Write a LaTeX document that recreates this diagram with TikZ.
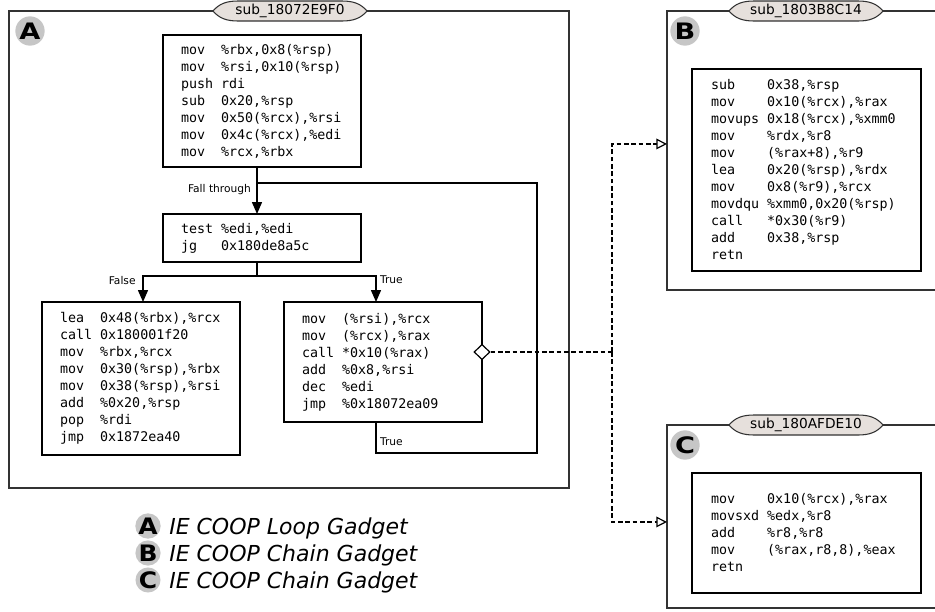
\documentclass[tikz,border=0pt]{standalone}
\usepackage{fontspec}
\usepackage{graphicx}
\setmainfont{DejaVu Sans}
\newfontfamily\codefont{DejaVu Sans Mono}
\usetikzlibrary{arrows.meta,shapes.geometric,calc}
\definecolor{framec}{HTML}{333333}
\definecolor{ttlfill}{HTML}{E6E0DC}
\definecolor{circfill}{HTML}{C6C6C6}
\newlength\cw \setlength\cw{6.02pt}
\newcommand\ia[2]{\makebox[5\cw][l]{#1}#2}
\newcommand\ib[2]{\makebox[7\cw][l]{#1}#2}
\newcommand\wide[1]{\scalebox{1.2}[1]{#1}}
\newcommand\ttl[4]{%
  \filldraw[ttlshape] (#2-77,#3) .. controls (#2-71,#3-7) and (#2-64,#3-10) .. (#2-52,#3-10)
    -- (#2+52,#3-10) .. controls (#2+64,#3-10) and (#2+71,#3-7) .. (#2+77,#3)
    .. controls (#2+71,#3+7) and (#2+64,#3+10) .. (#2+52,#3+10)
    -- (#2-52,#3+10) .. controls (#2-64,#3+10) and (#2-71,#3+7) .. cycle;
  \node[ttltext] (#1) at (#2,#3) {#4};}
\begin{document}
\begin{tikzpicture}[x=0.75pt,y=-0.75pt,
  panel/.style={draw=framec, line width=1.5pt, anchor=north west, inner sep=0pt, outer sep=0pt},
  block/.style={draw=black, line width=1.2pt, anchor=north west, align=left, inner xsep=13.5pt,
    inner ysep=0pt, outer sep=0pt, text width=121.5pt, font=\codefont\fontsize{10}{12.75}\selectfont},
  blockw/.style={block, inner xsep=14.25pt, text width=143.25pt},
  conn/.style={draw=black, line width=1.1pt},
  arr/.style={conn, -{Triangle[length=9pt,width=7.5pt]}},
  dashline/.style={draw=black, line width=0.9pt, dash pattern=on 3.5pt off 2pt},
  dashconn/.style={dashline, -{Triangle[open,length=8pt,width=8pt,fill=white]}},
  lbl/.style={font=\fontsize{8}{9.6}\selectfont, inner sep=2.5pt},
  ttlshape/.style={draw=framec, line width=0.8pt, fill=ttlfill},
  ttltext/.style={font=\fontsize{10.3}{12}\selectfont, inner sep=0pt},
  pcirc/.style={circle, fill=circfill, minimum size=22pt, inner sep=0pt, font=\bfseries\fontsize{17}{19}\selectfont},
  lcirc/.style={circle, fill=circfill, minimum size=18.5pt, inner sep=0pt, font=\bfseries\fontsize{17}{19}\selectfont},
  ltext/.style={anchor=base west, inner sep=0pt, font=\itshape\fontsize{16.5}{19}\selectfont}
]
\useasboundingbox (0,0) rectangle (935,611);
\clip (0,0) rectangle (935,611);

% panels
\node[panel, minimum width=420pt, minimum height=357.75pt] (pA) at (9,11) {};
\node[panel, minimum width=225pt, minimum height=209.25pt] (pB) at (667,11) {};
\node[panel, minimum width=225pt, minimum height=137.25pt] (pC) at (667,425) {};

\ttl{tA}{290}{11}{sub\_18072E9F0}
\ttl{tB}{806}{11}{sub\_1803B8C14}
\ttl{tC}{806}{425}{sub\_180AFDE10}

\node[pcirc] (cA) at (30,31) {\wide{A}};
\node[pcirc] (cB) at (685,31) {\wide{B}};
\node[pcirc] (cC) at (685,445) {\wide{C}};

% blocks of A
\node[block, minimum height=99pt] (b1) at (163,35) {%
\ia{mov}{\%rbx,0x8(\%rsp)}\\
\ia{mov}{\%rsi,0x10(\%rsp)}\\
\ia{push}{rdi}\\
\ia{sub}{0x20,\%rsp}\\
\ia{mov}{0x50(\%rcx),\%rsi}\\
\ia{mov}{0x4c(\%rcx),\%edi}\\
\ia{mov}{\%rcx,\%rbx}};
\node[block, minimum height=36pt] (b2) at (163,214) {%
\ia{test}{\%edi,\%edi}\\
\ia{jg}{0x180de8a5c}};
\node[block, minimum height=114.75pt] (b4) at (42,302) {%
\ia{lea}{0x48(\%rbx),\%rcx}\\
\ia{call}{0x180001f20}\\
\ia{mov}{\%rbx,\%rcx}\\
\ia{mov}{0x30(\%rsp),\%rbx}\\
\ia{mov}{0x38(\%rsp),\%rsi}\\
\ia{add}{\%0x20,\%rsp}\\
\ia{pop}{\%rdi}\\
\ia{jmp}{0x1872ea40}};
\node[block, minimum height=90pt] (b3) at (284,302) {%
\ia{mov}{(\%rsi),\%rcx}\\
\ia{mov}{(\%rcx),\%rax}\\
\ia{call}{*0x10(\%rax)}\\
\ia{add}{\%0x8,\%rsi}\\
\ia{dec}{\%edi}\\
\ia{jmp}{\%0x18072ea09}};

% blocks of B and C
\node[blockw, minimum height=151.5pt] (bB) at (692,69) {%
\ib{sub}{0x38,\%rsp}\\
\ib{mov}{0x10(\%rcx),\%rax}\\
\ib{movups}{0x18(\%rcx),\%xmm0}\\
\ib{mov}{\%rdx,\%r8}\\
\ib{mov}{(\%rax+8),\%r9}\\
\ib{lea}{0x20(\%rsp),\%rdx}\\
\ib{mov}{0x8(\%r9),\%rcx}\\
\ib{movdqu}{\%xmm0,0x20(\%rsp)}\\
\ib{call}{*0x30(\%r9)}\\
\ib{add}{0x38,\%rsp}\\
\ib{retn}{}};
\node[blockw, minimum height=90pt] (bC) at (692,473) {%
\ib{mov}{0x10(\%rcx),\%rax}\\
\ib{movsxd}{\%edx,\%r8}\\
\ib{add}{\%r8,\%r8}\\
\ib{mov}{(\%rax,r8,8),\%eax}\\
\ib{retn}{}};

% control flow in A
\coordinate (fx) at (257,0);
\coordinate (fxF) at (143,0);
\coordinate (fxT) at (376,0);
\coordinate (br) at (257,276);
\coordinate (lbr) at (537,453);
\coordinate (ltop) at (257,183);

\draw[arr] (b1.south -| fx) -- node[lbl, pos=0.49, left, inner xsep=4pt]{Fall through} (b2.north -| fx);
\draw[conn] (b2.south -| fx) -- (br);
\draw[arr] (br) -| node[lbl, pos=0.58, left, inner xsep=5pt]{False} (b4.north -| fxF);
\draw[arr] (br) -| node[lbl, pos=0.58, right]{True} (b3.north -| fxT);
\draw[conn] (b3.south -| fxT) |- node[lbl, pos=0.32, right]{True} (lbr) |- (ltop);

% calls to B and C
\node[diamond, draw=black, fill=white, line width=0.9pt, minimum width=12pt, minimum height=11.5pt, inner sep=0pt] (dm) at ([yshift=7.5pt]b3.east) {};
\coordinate (j) at (612,352);
\draw[dashline] (dm.east) -- (j);
\draw[dashconn] (j) |- ([yshift=4.9pt]pB.west);
\draw[dashconn] (j) |- ([yshift=-4.1pt]pC.west);

% legend
\node[lcirc] (lA) at (148,526) {\scalebox{1.1}[1]{A}};
\node[lcirc] (lB) at (148,553) {\scalebox{1.1}[1]{B}};
\node[lcirc] (lC) at (148,580) {\scalebox{1.1}[1]{C}};
\node[ltext] (xA) at (169,534) {IE COOP Loop Gadget};
\node[ltext] (xB) at (169,561) {IE COOP Chain Gadget};
\node[ltext] (xC) at (169,588) {IE COOP Chain Gadget};
\end{tikzpicture}
\end{document}
